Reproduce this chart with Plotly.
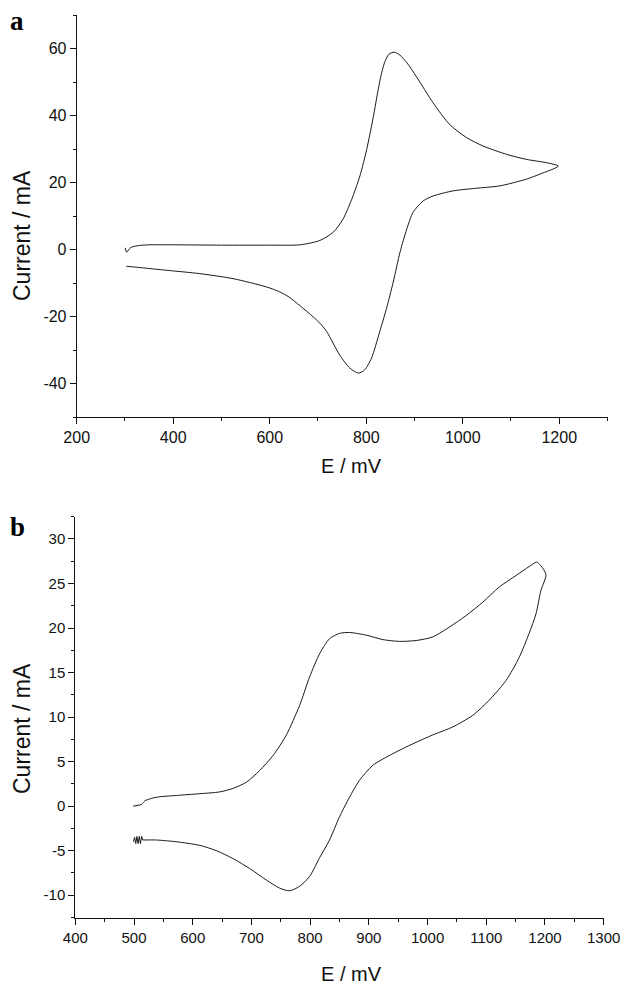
import plotly.graph_objects as go

# ---- Panel a: cyclic voltammogram ----
E_a_fwd = [300.5, 303.5, 312, 330, 352, 400, 500, 600, 663, 704, 732, 752, 770, 787, 801, 815,
           822, 830, 838, 847, 858, 870, 884, 904, 939, 973, 1008, 1042, 1091, 1132, 1174, 1198]
I_a_fwd = [0.5, -0.8, 0.6, 1.2, 1.4, 1.4, 1.3, 1.3, 1.4, 2.7, 5.2, 9.1, 15.0, 22.0, 29.9, 39.8,
           45.5, 51.5, 55.8, 58.3, 58.9, 58.0, 55.8, 51.6, 43.7, 37.3, 33.4, 30.9, 28.4, 26.9, 25.9, 24.9]
E_a_rev = [1160, 1132, 1077, 1022, 980, 939, 918, 897, 884, 870, 856, 842, 828, 811, 797, 784,
           766, 745, 718, 704, 690, 663, 640, 620, 594, 524, 455, 386, 331, 303]
I_a_rev = [22.5, 21.0, 19.0, 18.2, 17.5, 16.0, 14.5, 11.1, 6.1, -0.8, -9.7, -17.6, -24.5, -32.4, -35.9, -36.9,
           -35.4, -31.5, -24.5, -22.0, -20.1, -16.8, -14.2, -12.6, -11.2, -8.7, -7.2, -6.2, -5.4, -5.0]
xticks_a = [200, 400, 600, 800, 1000, 1200]
yticks_a = [-40, -20, 0, 20, 40, 60]

# ---- Panel b: cyclic voltammogram ----
E_b_fwd = [498.6, 513, 518.5, 538, 572, 612, 646, 669, 691.5, 714, 737, 759.5, 782, 799, 816, 833,
           850, 867, 895.6, 924, 952, 980.6, 1008.8, 1037, 1065.6, 1094, 1122, 1150.7, 1173, 1185.7, 1193, 1201.7]
I_b_fwd = [0.0, 0.2, 0.6, 1.0, 1.2, 1.4, 1.6, 2.0, 2.7, 4.0, 5.7, 8.0, 11.3, 14.5, 17.1, 18.8,
           19.4, 19.5, 19.2, 18.7, 18.5, 18.6, 19.0, 20.1, 21.4, 22.9, 24.6, 25.9, 26.9, 27.4, 27.0, 26.0]
E_b_rev = [1193, 1184.7, 1173, 1156, 1133.6, 1105, 1077, 1043, 1009, 975, 941, 907, 884, 867, 850, 833,
           816, 799, 782, 765, 748, 725.5, 697, 669, 640.5, 612, 572.5, 538.5, 515]
I_b_rev = [24.2, 21.6, 19.4, 16.7, 14.1, 11.9, 10.2, 8.9, 8.0, 7.0, 5.9, 4.6, 2.9, 1.0, -1.2, -3.8,
           -5.8, -7.9, -9.0, -9.5, -9.2, -8.3, -7.0, -5.9, -5.0, -4.4, -4.0, -3.8, -3.8]
# noisy tail at the end of the reverse scan
E_b_noise = [515, 513, 511, 509, 507, 505, 503, 501, 499]
I_b_noise = [-3.8, -3.4, -4.2, -3.4, -4.2, -3.4, -4.2, -3.5, -4.0]
xticks_b = [400, 500, 600, 700, 800, 900, 1000, 1100, 1200, 1300]
yticks_b = [-10, -5, 0, 5, 10, 15, 20, 25, 30]

W, H = 626, 986
LINE = dict(color="#1a1a1a", width=1, shape="spline", smoothing=0.7)
LINE_RAW = dict(color="#1a1a1a", width=1)

fig = go.Figure()
fig.add_trace(go.Scatter(x=E_a_fwd + E_a_rev, y=I_a_fwd + I_a_rev, mode="lines",
                         line=LINE, xaxis="x", yaxis="y", showlegend=False, hoverinfo="skip"))
fig.add_trace(go.Scatter(x=E_b_fwd + E_b_rev, y=I_b_fwd + I_b_rev, mode="lines",
                         line=LINE, xaxis="x2", yaxis="y2", showlegend=False, hoverinfo="skip"))
fig.add_trace(go.Scatter(x=E_b_noise, y=I_b_noise, mode="lines",
                         line=LINE_RAW, xaxis="x2", yaxis="y2", showlegend=False, hoverinfo="skip"))


def ax(rng, ticks, mdtick, domain, anchor, fsize):
    return dict(range=rng, tickmode="array", tickvals=ticks,
                ticktext=[str(t) for t in ticks],
                domain=domain, anchor=anchor, automargin=False,
                showline=True, linecolor="#111", linewidth=1,
                ticks="outside", ticklen=6, tickwidth=1, tickcolor="#111",
                minor=dict(ticks="outside", ticklen=3, tickmode="linear",
                           tick0=rng[0], dtick=mdtick, tickcolor="#111"),
                showgrid=False, zeroline=False,
                tickfont=dict(family="Liberation Sans, Arial, sans-serif", size=fsize, color="#111"))


def px(x):
    return x / W


def py(y):
    return 1 - y / H


fig.update_layout(
    width=W, height=H,
    margin=dict(l=0, r=0, t=0, b=0, autoexpand=False),
    paper_bgcolor="white", plot_bgcolor="white",
    xaxis=ax([200, 1300], xticks_a, 100, [px(76.7), px(607.5)], "y", 16),
    yaxis=ax([-50, 70], yticks_a, 10, [py(417), py(15)], "x", 16),
    xaxis2=ax([400, 1300], xticks_b, 50, [px(75.3), px(603.7)], "y2", 15),
    yaxis2=ax([-12.5, 32.5], yticks_b, 2.5, [py(917.5), py(516.7)], "x2", 15),
)

TITLEFONT = dict(family="Liberation Sans, Arial, sans-serif", size=20, color="#111")
YTITLEFONT = dict(family="Liberation Sans, Arial, sans-serif", size=23, color="#111")
LETTERFONT = dict(family="Liberation Serif, Times New Roman, serif", size=27, color="#000")

annos = [
    dict(text="Current / mA", x=px(22), y=py(236), textangle=-90, font=YTITLEFONT),
    dict(text="E / mV", x=px(351), y=py(466), font=TITLEFONT),
    dict(text="Current / mA", x=px(22), y=py(729), textangle=-90, font=YTITLEFONT),
    dict(text="E / mV", x=px(351), y=py(974), font=TITLEFONT),
    dict(text="<b>a</b>", x=px(16.5), y=py(21), font=LETTERFONT),
    dict(text="<b>b</b>", x=px(17.5), y=py(527), font=LETTERFONT),
]
for a in annos:
    fig.add_annotation(xref="paper", yref="paper", showarrow=False,
                       xanchor="center", yanchor="middle", **a)

fig.write_html(
    "out.html",
    config={"displayModeBar": False},
    post_script="document.body.style.margin='0';document.body.style.overflow='hidden';",
)
